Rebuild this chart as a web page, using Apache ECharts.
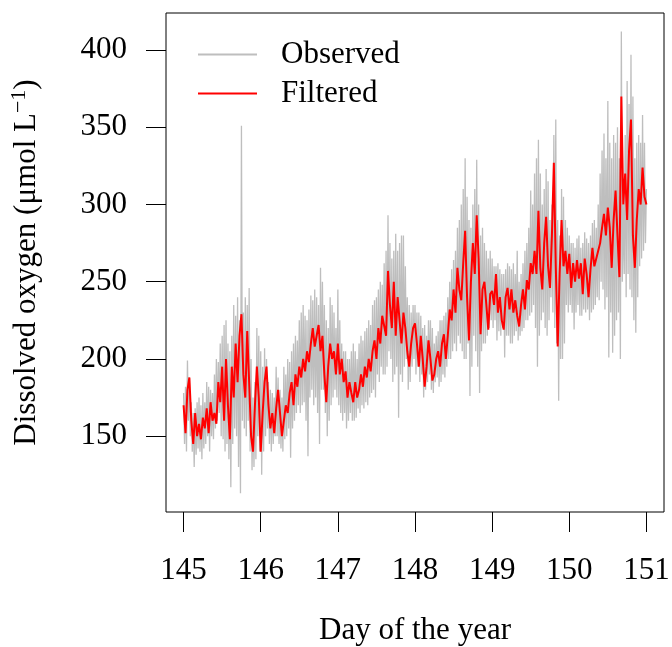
<!DOCTYPE html>
<html>
<head>
<meta charset="utf-8">
<script src="https://cdn.jsdelivr.net/npm/echarts@6/dist/echarts.min.js"></script>
<style>
  html, body { margin: 0; padding: 0; background: #fff; }
  #chart { width: 672px; height: 647px; }
</style>
</head>
<body>
<div id="chart"></div>
<script>
// time grid: first day and spacing of samples (days)
const startDay = 145;
const observedStep = 0.0125;
const filteredStep = 0.025;

const xTicks = [145, 146, 147, 148, 149, 150, 151];
const yTicks = [150, 200, 250, 300, 350, 400];

// Observed dissolved oxygen (µmol L-1), one value per sample (80 per day)
const observed = [
  // day 145
  178, 145, 182, 140, 199, 160, 188, 150, 172, 140, 165, 130, 168, 138, 172, 142, 175, 140, 170, 135,
  178, 142, 172, 145, 185, 150, 182, 140, 180, 150, 178, 148, 190, 155, 200, 160, 198, 165, 210, 150,
  215, 148, 222, 140, 225, 145, 210, 135, 205, 117, 215, 145, 235, 155, 228, 150, 240, 130, 225, 113,
  351, 160, 230, 155, 240, 150, 235, 160, 246, 140, 200, 128, 175, 130, 185, 135, 220, 150, 215, 140,
  // day 146
  205, 125, 195, 140, 207, 150, 200, 155, 185, 145, 180, 140, 178, 145, 175, 150, 195, 150, 188, 145,
  180, 142, 175, 140, 195, 148, 190, 150, 200, 155, 198, 136, 205, 155, 210, 160, 215, 165, 212, 170,
  225, 165, 230, 170, 235, 172, 228, 160, 225, 137, 232, 175, 241, 180, 238, 170, 245, 175, 240, 165,
  235, 145, 259, 180, 250, 180, 235, 165, 225, 150, 220, 160, 240, 170, 235, 175, 230, 180, 220, 175,
  // day 147
  245, 170, 225, 165, 210, 160, 205, 165, 205, 155, 200, 160, 200, 165, 205, 160, 210, 160, 205, 162,
  200, 168, 210, 165, 215, 170, 212, 168, 218, 172, 220, 170, 225, 175, 222, 178, 235, 180, 238, 175,
  240, 190, 245, 185, 250, 195, 248, 190, 262, 190, 270, 195, 293, 205, 275, 200, 265, 185, 270, 190,
  281, 195, 270, 162, 275, 190, 280, 185, 280, 195, 260, 200, 240, 180, 235, 185, 230, 195, 235, 200,
  // day 148
  235, 190, 230, 195, 230, 185, 228, 190, 220, 175, 222, 180, 215, 185, 225, 190, 225, 180, 220, 178,
  210, 185, 215, 188, 218, 182, 225, 185, 225, 190, 228, 188, 230, 195, 240, 200, 250, 200, 258, 205,
  264, 210, 270, 205, 285, 215, 290, 210, 300, 205, 310, 200, 330, 200, 305, 210, 290, 176, 285, 195,
  300, 215, 310, 205, 329, 195, 300, 178, 280, 205, 285, 210, 275, 210, 270, 215, 265, 220, 270, 225,
  // day 149
  265, 220, 260, 225, 260, 212, 262, 218, 258, 215, 255, 220, 255, 201, 258, 215, 262, 215, 260, 210,
  258, 210, 262, 215, 255, 218, 270, 212, 250, 215, 255, 218, 262, 220, 270, 225, 275, 225, 285, 228,
  309, 230, 300, 235, 320, 220, 330, 195, 342, 215, 320, 225, 300, 230, 310, 220, 323, 215, 315, 225,
  290, 240, 300, 230, 345, 220, 355, 210, 290, 173, 280, 200, 310, 200, 305, 210, 290, 235, 285, 230,
  // day 150
  280, 235, 275, 230, 275, 219, 272, 230, 278, 235, 280, 228, 272, 228, 275, 232, 282, 230, 278, 232,
  275, 225, 280, 230, 288, 232, 290, 235, 285, 240, 300, 238, 320, 250, 335, 245, 346, 232, 330, 240,
  367, 201, 340, 230, 330, 204, 345, 215, 340, 225, 350, 230, 330, 200, 412, 250, 300, 255, 345, 240,
  380, 255, 365, 245, 397, 240, 370, 225, 330, 217, 340, 240, 345, 260, 340, 265, 358, 270, 340, 275,
  // day 151
  310
];

// Filtered dissolved oxygen (µmol L-1), one value per sample (40 per day)
const filtered = [
  // day 145
  170, 152, 180, 188, 160, 145, 165, 150, 158, 148, 162, 155, 168, 152, 172, 160, 165, 158, 185, 172,
  195, 160, 200, 170, 148, 195, 175, 210, 185, 215, 229, 190, 175, 218, 185, 150, 140, 170, 195, 175,
  // day 146
  140, 165, 185, 195, 170, 155, 165, 152, 168, 180, 165, 150, 160, 170, 165, 178, 185, 170, 190, 182,
  195, 188, 200, 192, 205, 198, 210, 220, 208, 215, 222, 205, 215, 190, 172, 195, 210, 200, 205, 190,
  // day 147
  210, 190, 200, 185, 192, 175, 185, 178, 172, 185, 175, 180, 190, 182, 195, 188, 200, 192, 205, 212,
  200, 220, 210, 228, 227, 215, 257, 235, 220, 250, 215, 240, 225, 210, 230, 220, 205, 195, 210, 220,
  // day 148
  223, 210, 195, 215, 200, 182, 195, 212, 200, 186, 190, 200, 205, 195, 210, 216, 200, 215, 232, 225,
  245, 230, 259, 245, 238, 262, 283, 240, 212, 250, 275, 255, 293, 265, 216, 245, 250, 235, 219, 242,
  // day 149
  244, 235, 255, 230, 240, 225, 219, 240, 246, 232, 245, 230, 238, 228, 221, 235, 245, 232, 251, 245,
  262, 255, 270, 255, 296, 259, 245, 275, 292, 260, 246, 280, 327, 260, 208, 255, 290, 260, 270, 255,
  // day 150
  268, 246, 262, 250, 264, 252, 262, 242, 265, 255, 240, 258, 272, 260, 259, 270, 275, 285, 294, 280,
  298, 285, 259, 290, 309, 280, 253, 370, 300, 320, 290, 335, 355, 280, 259, 290, 310, 300, 324, 305,
  // day 151
  300
];

const toPairs = (arr, step) => arr.map((v, i) => [startDay + i * step, v]);

const FONT = '"Liberation Serif", "DejaVu Serif", serif';
const chart = echarts.init(document.getElementById('chart'), null, { renderer: 'canvas' });

chart.setOption({
  animation: false,
  backgroundColor: '#ffffff',
  textStyle: { fontFamily: FONT },
  grid: {
    left: 166, top: 13, right: 8, bottom: 135,
    show: true, borderColor: '#000', borderWidth: 1,
    containLabel: false, outerBoundsMode: 'none'
  },
  legend: {
    orient: 'vertical',
    left: 193, top: 34,
    itemWidth: 59, itemHeight: 14, itemGap: 8,
    icon: 'path://M0,6 L59,6 L59,8 L0,8 Z',
    textStyle: { fontFamily: FONT, fontSize: 31, color: '#000', padding: [0, 0, 0, 19] },
    data: [
      { name: 'Observed', itemStyle: { color: '#BEBEBE' } },
      { name: 'Filtered', itemStyle: { color: '#FF0000' } }
    ]
  },
  xAxis: {
    type: 'value',
    min: 144.772, max: 151.228,
    axisLine: { show: false },
    splitLine: { show: false },
    axisTick: { show: true, inside: false, length: 20, customValues: xTicks, lineStyle: { color: '#000', width: 1 } },
    axisLabel: { customValues: xTicks, margin: 43, fontFamily: FONT, fontSize: 31, color: '#000',
                 formatter: v => String(Math.round(v)) },
    name: 'Day of the year',
    nameLocation: 'middle',
    nameGap: 103,
    nameTextStyle: { fontFamily: FONT, fontSize: 31, color: '#000' }
  },
  yAxis: {
    type: 'value',
    min: 100.9, max: 424.0,
    axisLine: { show: false },
    splitLine: { show: false },
    axisTick: { show: true, inside: false, length: 20, customValues: yTicks, lineStyle: { color: '#000', width: 1 } },
    axisLabel: { customValues: yTicks, margin: 39, fontFamily: FONT, fontSize: 31, color: '#000',
                 formatter: v => String(Math.round(v)) },
    name: '{a|Dissolved oxygen (μmol L}{s|−1}{a|)}',
    nameLocation: 'middle',
    nameGap: 120,
    nameTextStyle: {
      fontFamily: FONT, fontSize: 31, color: '#000',
      rich: {
        a: { fontFamily: FONT, fontSize: 31, color: '#000', lineHeight: 38 },
        s: { fontFamily: FONT, fontSize: 22, color: '#000', lineHeight: 22, verticalAlign: 'top' }
      }
    }
  },
  series: [
    {
      name: 'Observed', type: 'line', data: toPairs(observed, observedStep),
      symbol: 'none', showSymbol: false, sampling: null,
      lineStyle: { color: '#BEBEBE', width: 1.3 }, itemStyle: { color: '#BEBEBE' },
      emphasis: { disabled: true }
    },
    {
      name: 'Filtered', type: 'line', data: toPairs(filtered, filteredStep),
      symbol: 'none', showSymbol: false, sampling: null,
      lineStyle: { color: '#FF0000', width: 2 }, itemStyle: { color: '#FF0000' },
      emphasis: { disabled: true }
    }
  ]
});
</script>
</body>
</html>
